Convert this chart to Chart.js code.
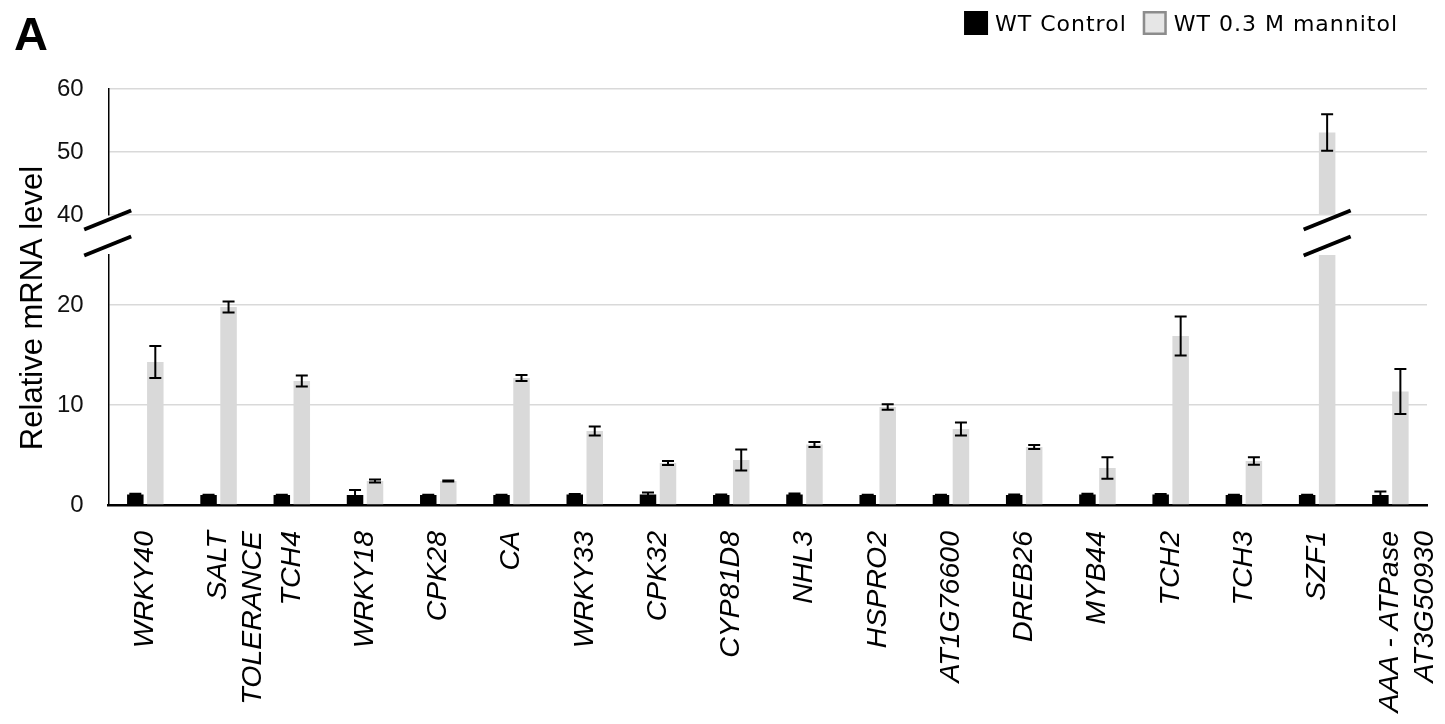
<!DOCTYPE html>
<html lang="en">
<head>
<meta charset="UTF-8">
<title>Relative mRNA level: WT control vs 0.3 M mannitol</title>
<script src="https://cdn.jsdelivr.net/npm/chart.js"></script>
<style>
  html, body { margin: 0; padding: 0; background: #fff; }
  #wrap { width: 1445px; height: 724px; position: relative; }
</style>
</head>
<body>
<div id="wrap"><canvas id="mrnaChart"></canvas></div>
<script>
// genes on the x axis (arrays wrap onto two lines)
var genes = [
  'WRKY40', ['SALT', 'TOLERANCE'], 'TCH4', 'WRKY18', 'CPK28', 'CA', 'WRKY33',
  'CPK32', 'CYP81D8', 'NHL3', 'HSPRO2', 'AT1G76600', 'DREB26', 'MYB44',
  'TCH2', 'TCH3', 'SZF1', ['AAA - ATPase', 'AT3G50930']
];

// relative mRNA level, mean and error
var wtControl     = [1.05, 1.0, 1.0, 1.0, 1.0, 1.0, 1.05, 1.05, 1.0, 1.05, 1.0, 1.0, 1.0, 1.05, 1.05, 1.0, 1.0, 1.0];
var wtControlErr  = [0.08, 0.03, 0.03, 0.5, 0.03, 0.03, 0.05, 0.2, 0.05, 0.1, 0.03, 0.03, 0.05, 0.08, 0.05, 0.03, 0.03, 0.35];
var wtMannitol    = [14.3, 19.8, 12.4, 2.4, 2.4, 12.7, 7.4, 4.2, 4.5, 6.05, 9.8, 7.6, 5.8, 3.7, 16.9, 4.4, 53.1, 11.35];
var wtMannitolErr = [1.6, 0.55, 0.55, 0.15, 0.05, 0.3, 0.45, 0.2, 1.05, 0.25, 0.28, 0.65, 0.2, 1.08, 1.95, 0.38, 2.9, 2.25];

// broken value axis: lower and upper ranges
var lowRange  = [0, 25];
var highRange = [40, 60];
var tickStep  = 10;

var seriesNames = ['WT Control', 'WT 0.3 M mannitol'];
var yTitle = 'Relative mRNA level';

var SANS = "'Liberation Sans', Arial, sans-serif";

// clip each dataset to its own panel, then draw its error bars
var errorBars = {
  id: 'errorBars',
  beforeDatasetDraw: function (chart, args) {
    var ys = chart.scales[args.meta.yAxisID];
    var a = chart.chartArea;
    var ctx = chart.ctx;
    ctx.save();
    ctx.beginPath();
    ctx.rect(a.left - 20, ys.top, a.right - a.left + 40, ys.bottom - ys.top);
    ctx.clip();
  },
  afterDatasetDraw: function (chart, args) {
    var meta = args.meta;
    var ys = chart.scales[meta.yAxisID];
    var ds = chart.data.datasets[args.index];
    var ctx = chart.ctx;
    ctx.strokeStyle = '#000';
    ctx.lineWidth = 2;
    meta.data.forEach(function (bar, i) {
      var v = ds.data[i], e = ds.errors[i];
      var yt = ys.getPixelForValue(v + e);
      var yb = ys.getPixelForValue(v - e);
      ctx.beginPath();
      ctx.moveTo(bar.x, yt); ctx.lineTo(bar.x, yb);
      ctx.moveTo(bar.x - 6, yt); ctx.lineTo(bar.x + 6, yt);
      ctx.moveTo(bar.x - 6, yb); ctx.lineTo(bar.x + 6, yb);
      ctx.stroke();
    });
    ctx.restore();
  }
};

// axis break marks, y title, panel letter and legend
var decorations = {
  id: 'decorations',
  afterDraw: function (chart) {
    var ctx = chart.ctx;
    var a = chart.chartArea;
    var hi = chart.scales.yHigh, lo = chart.scales.yLow;

    function breakMark(cx) {
      [hi.bottom + 5, lo.top - 9].forEach(function (cy) {
        ctx.beginPath();
        ctx.moveTo(cx - 23.5, cy + 9.5);
        ctx.lineTo(cx + 23.5, cy - 9.5);
        ctx.stroke();
      });
    }
    ctx.save();
    ctx.strokeStyle = '#000';
    ctx.lineWidth = 4;
    breakMark(a.left - 1);
    // the bar that runs through the break
    var tall = wtMannitol.indexOf(Math.max.apply(null, wtMannitol));
    breakMark(chart.getDatasetMeta(1).data[tall].x);
    ctx.restore();

    // y axis title
    ctx.save();
    ctx.fillStyle = '#000';
    ctx.font = '31px ' + SANS;
    ctx.textAlign = 'center';
    ctx.textBaseline = 'middle';
    ctx.translate(33, (a.top + a.bottom) / 2 + 11);
    ctx.rotate(-Math.PI / 2);
    ctx.fillText(yTitle, 0, 0);
    ctx.restore();

    // panel letter
    ctx.save();
    ctx.fillStyle = '#000';
    ctx.font = 'bold 47px ' + SANS;
    ctx.textBaseline = 'alphabetic';
    ctx.fillText('A', 14, 49.5);
    ctx.restore();

    // legend, laid out from the right
    ctx.save();
    ctx.font = "22px 'DejaVu Sans', sans-serif";
    ctx.letterSpacing = '1px';
    ctx.textBaseline = 'alphabetic';
    ctx.fillStyle = '#000';
    var right = 1398, box = 24, gap = 7, itemGap = 16, top = 11, base = 30.5;
    var w2 = ctx.measureText(seriesNames[1]).width;
    var w1 = ctx.measureText(seriesNames[0]).width;
    var t2 = right - w2, b2 = t2 - gap - box;
    var t1 = b2 - itemGap - w1, b1 = t1 - gap - box;
    ctx.fillRect(b1, top, box, box);
    ctx.fillText(seriesNames[0], t1, base);
    ctx.fillStyle = '#e6e6e6';
    ctx.fillRect(b2, top, box, box);
    ctx.strokeStyle = '#8c8c8c';
    ctx.lineWidth = 2.5;
    ctx.strokeRect(b2 + 1.25, top + 1.25, box - 2.5, box - 2.5);
    ctx.fillStyle = '#000';
    ctx.fillText(seriesNames[1], t2, base);
    ctx.restore();
  }
};

function gridColor(c) {
  return c.tick && c.tick.value === 0 ? 'rgba(0,0,0,0)' : '#d9d9d9';
}

var valueTicks = {
  stepSize: tickStep,
  includeBounds: false,
  padding: 25,
  color: '#111',
  font: { family: SANS, size: 24 }
};

var ctx = document.getElementById('mrnaChart').getContext('2d');
var mrnaChart = new Chart(ctx, {
  type: 'bar',
  data: {
    labels: genes,
    datasets: [
      {
        label: seriesNames[0],
        data: wtControl,
        errors: wtControlErr,
        backgroundColor: '#000',
        yAxisID: 'yLow',
        stack: 'control'
      },
      {
        label: seriesNames[1],
        data: wtMannitol,
        errors: wtMannitolErr,
        backgroundColor: '#d9d9d9',
        yAxisID: 'yLow',
        stack: 'mannitol'
      },
      {
        // same series, shown in the upper panel above the break
        label: seriesNames[1],
        data: wtMannitol,
        errors: wtMannitolErr,
        backgroundColor: '#d9d9d9',
        yAxisID: 'yHigh',
        stack: 'mannitol'
      }
    ]
  },
  options: {
    responsive: true,
    maintainAspectRatio: false,
    animation: false,
    categoryPercentage: 0.546,
    barPercentage: 0.825,
    layout: { padding: { top: 89, left: 32, right: 18, bottom: 0 } },
    plugins: {
      legend: { display: false },
      tooltip: { enabled: false }
    },
    scales: {
      x: {
        grid: { display: false },
        border: { display: true, color: '#000', width: 2.5 },
        ticks: {
          autoSkip: false,
          maxRotation: 90,
          minRotation: 90,
          padding: 18,
          color: '#000',
          font: { family: SANS, size: 28.5, style: 'italic', lineHeight: 1.2 }
        },
        afterFit: function (scale) {
          scale.paddingLeft = 0;
          scale.paddingRight = 0;
          scale.height = 219;
        }
      },
      yLow: {
        type: 'linear',
        position: 'left',
        stack: 'panels',
        stackWeight: 250,
        stacked: false,
        min: lowRange[0],
        max: lowRange[1],
        grid: { color: gridColor, lineWidth: 1.5, drawTicks: false },
        border: { color: '#000', width: 1.5 },
        ticks: valueTicks
      },
      yGap: {
        type: 'linear',
        position: 'left',
        stack: 'panels',
        stackWeight: 40,
        grid: { display: false, drawTicks: false },
        border: { display: false },
        ticks: { display: false }
      },
      yHigh: {
        type: 'linear',
        position: 'left',
        stack: 'panels',
        stackWeight: 126,
        stacked: false,
        min: highRange[0],
        max: highRange[1],
        grid: { color: '#d9d9d9', lineWidth: 1.5, drawTicks: false },
        border: { color: '#000', width: 1.5 },
        ticks: valueTicks
      }
    }
  },
  plugins: [errorBars, decorations]
});
</script>
</body>
</html>
